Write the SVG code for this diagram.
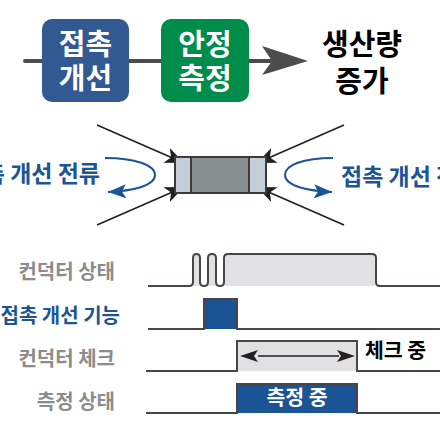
<svg xmlns="http://www.w3.org/2000/svg" width="440" height="440" viewBox="0 0 440 440">
<defs>
<marker id="blackHead" markerUnits="userSpaceOnUse" markerWidth="20" markerHeight="16" refX="19" refY="8" orient="auto"><path d="M0 0L19 8L0 16L5 8Z" fill="#231f20"/></marker>
<marker id="blueHead" markerUnits="userSpaceOnUse" markerWidth="20" markerHeight="16" refX="18" refY="7" orient="auto"><path d="M0 0L18 7L0 14L4 7Z" fill="#1b5497"/></marker>
</defs>
<style>
text{font-family:"Noto Sans CJK KR","Noto Sans",sans-serif;font-weight:700}
.big{font-size:29px;text-anchor:middle}
.w{fill:#fff}.k{fill:#000}
.blue{fill:#1c5596;font-size:23px}
.lab{font-size:20px;text-anchor:end;fill:#8c8c8c}
.sig{fill:none;stroke:#4a4444;stroke-width:2}
.cur{fill:none;stroke:#1b5497;stroke-width:2}
.ptr{fill:none;stroke:#231f20;stroke-width:1.6;marker-end:url(#blackHead)}
</style>
<rect width="440" height="440" fill="#fff"/>
<g id="connectors">
<path d="M25 61H272" stroke="#4d4b4c" stroke-width="4" stroke-linecap="round" fill="none"/>
<path d="M262 46L308 61L262 75L272 61Z" fill="#4d4b4c"/>
<path class="ptr" d="M97 125L184 163"/>
<path class="ptr" d="M344 125L257 163"/>
<path class="ptr" d="M97 225L184 187"/>
<path class="ptr" d="M344 225L257 187"/>
<path class="cur" d="M105 158C135 158 155 165 155 175C155 186 132 191 108 192" marker-end="url(#blueHead)"/>
<path class="cur" d="M333 158C303 158 285 165 285 175C285 186 308 191 332 192" marker-end="url(#blueHead)"/>
</g>
<g id="node-contact">
<rect x="42" y="19" width="87" height="83" rx="10" fill="#335992"/>
<text class="big w" x="85.500" y="55">접촉</text>
<text class="big w" x="85.500" y="89">개선</text>
</g>
<g id="node-measure">
<rect x="161" y="19" width="88" height="83" rx="10" fill="#008c4a"/>
<text class="big w" x="205" y="55">안정</text>
<text class="big w" x="205" y="89">측정</text>
</g>
<g id="node-output">
<text class="big k" x="362" y="55">생산량</text>
<text class="big k" x="362" y="92">증가</text>
</g>
<g id="node-chip">
<rect x="175" y="157" width="91" height="36" fill="#c3ced8"/>
<rect x="191" y="157" width="58" height="36" fill="#888f90"/>
<rect x="175" y="157" width="91" height="36" fill="none" stroke="#3e3a3a" stroke-width="2"/>
<path d="M191 157V193M249 157V193" stroke="#3e3a3a" stroke-width="2"/>
</g>
<g id="node-current-left"><text class="blue" x="100" y="182" text-anchor="end">접촉 개선 전류</text></g>
<g id="node-current-right"><text class="blue" x="341" y="185">접촉 개선 전류</text></g>
<g id="row-conductor">
<text class="lab" x="115" y="279">컨덕터 상태</text>
<path d="M224 286V258Q224 254 228 254H372Q376 254 376 258V286Z" fill="#e1e1e3"/>
<path d="M193 286V258Q193 254 196.500 254Q200 254 200 258V286ZM208 286V258Q208 254 212 254Q216 254 216 258V286Z" fill="#e1e1e3"/>
<path class="sig" d="M148 286H189Q193 286 193 282V258Q193 254 196.500 254Q200 254 200 258V282Q200 286 204 286Q208 286 208 282V258Q208 254 212 254Q216 254 216 258V282Q216 286 220 286Q224 286 224 282V258Q224 254 228 254H372Q376 254 376 258V282Q376 286 380 286H440"/>
</g>
<g id="row-contact">
<text class="lab" x="120" y="323" style="fill:#1c5596">접촉 개선 기능</text>
<rect x="204" y="299" width="33" height="30" fill="#1a5494"/>
<path class="sig" d="M148 329H204V299H237V329H440"/>
</g>
<g id="row-check">
<text class="lab" x="115" y="366">컨덕터 체크</text>
<rect x="237" y="341" width="120" height="30" fill="#e1e1e3"/>
<path class="sig" d="M146 371H237V341H357V371H440"/>
<path d="M258 356H339" stroke="#231f20" stroke-width="1.600"/>
<path d="M240 356L258 350L254 356L258 362ZM355 356L337 350L341 356L337 362Z" fill="#231f20"/>
<text x="365" y="358" class="k" font-size="20.500">체크 중</text>
</g>
<g id="row-measure">
<text class="lab" x="115" y="409">측정 상태</text>
<rect x="237" y="384" width="120" height="29" fill="#1a5494"/>
<path class="sig" d="M146 413H237V384H357V413H440"/>
<text x="297" y="405" class="w" font-size="20.500" text-anchor="middle">측정 중</text>
</g>
</svg>
